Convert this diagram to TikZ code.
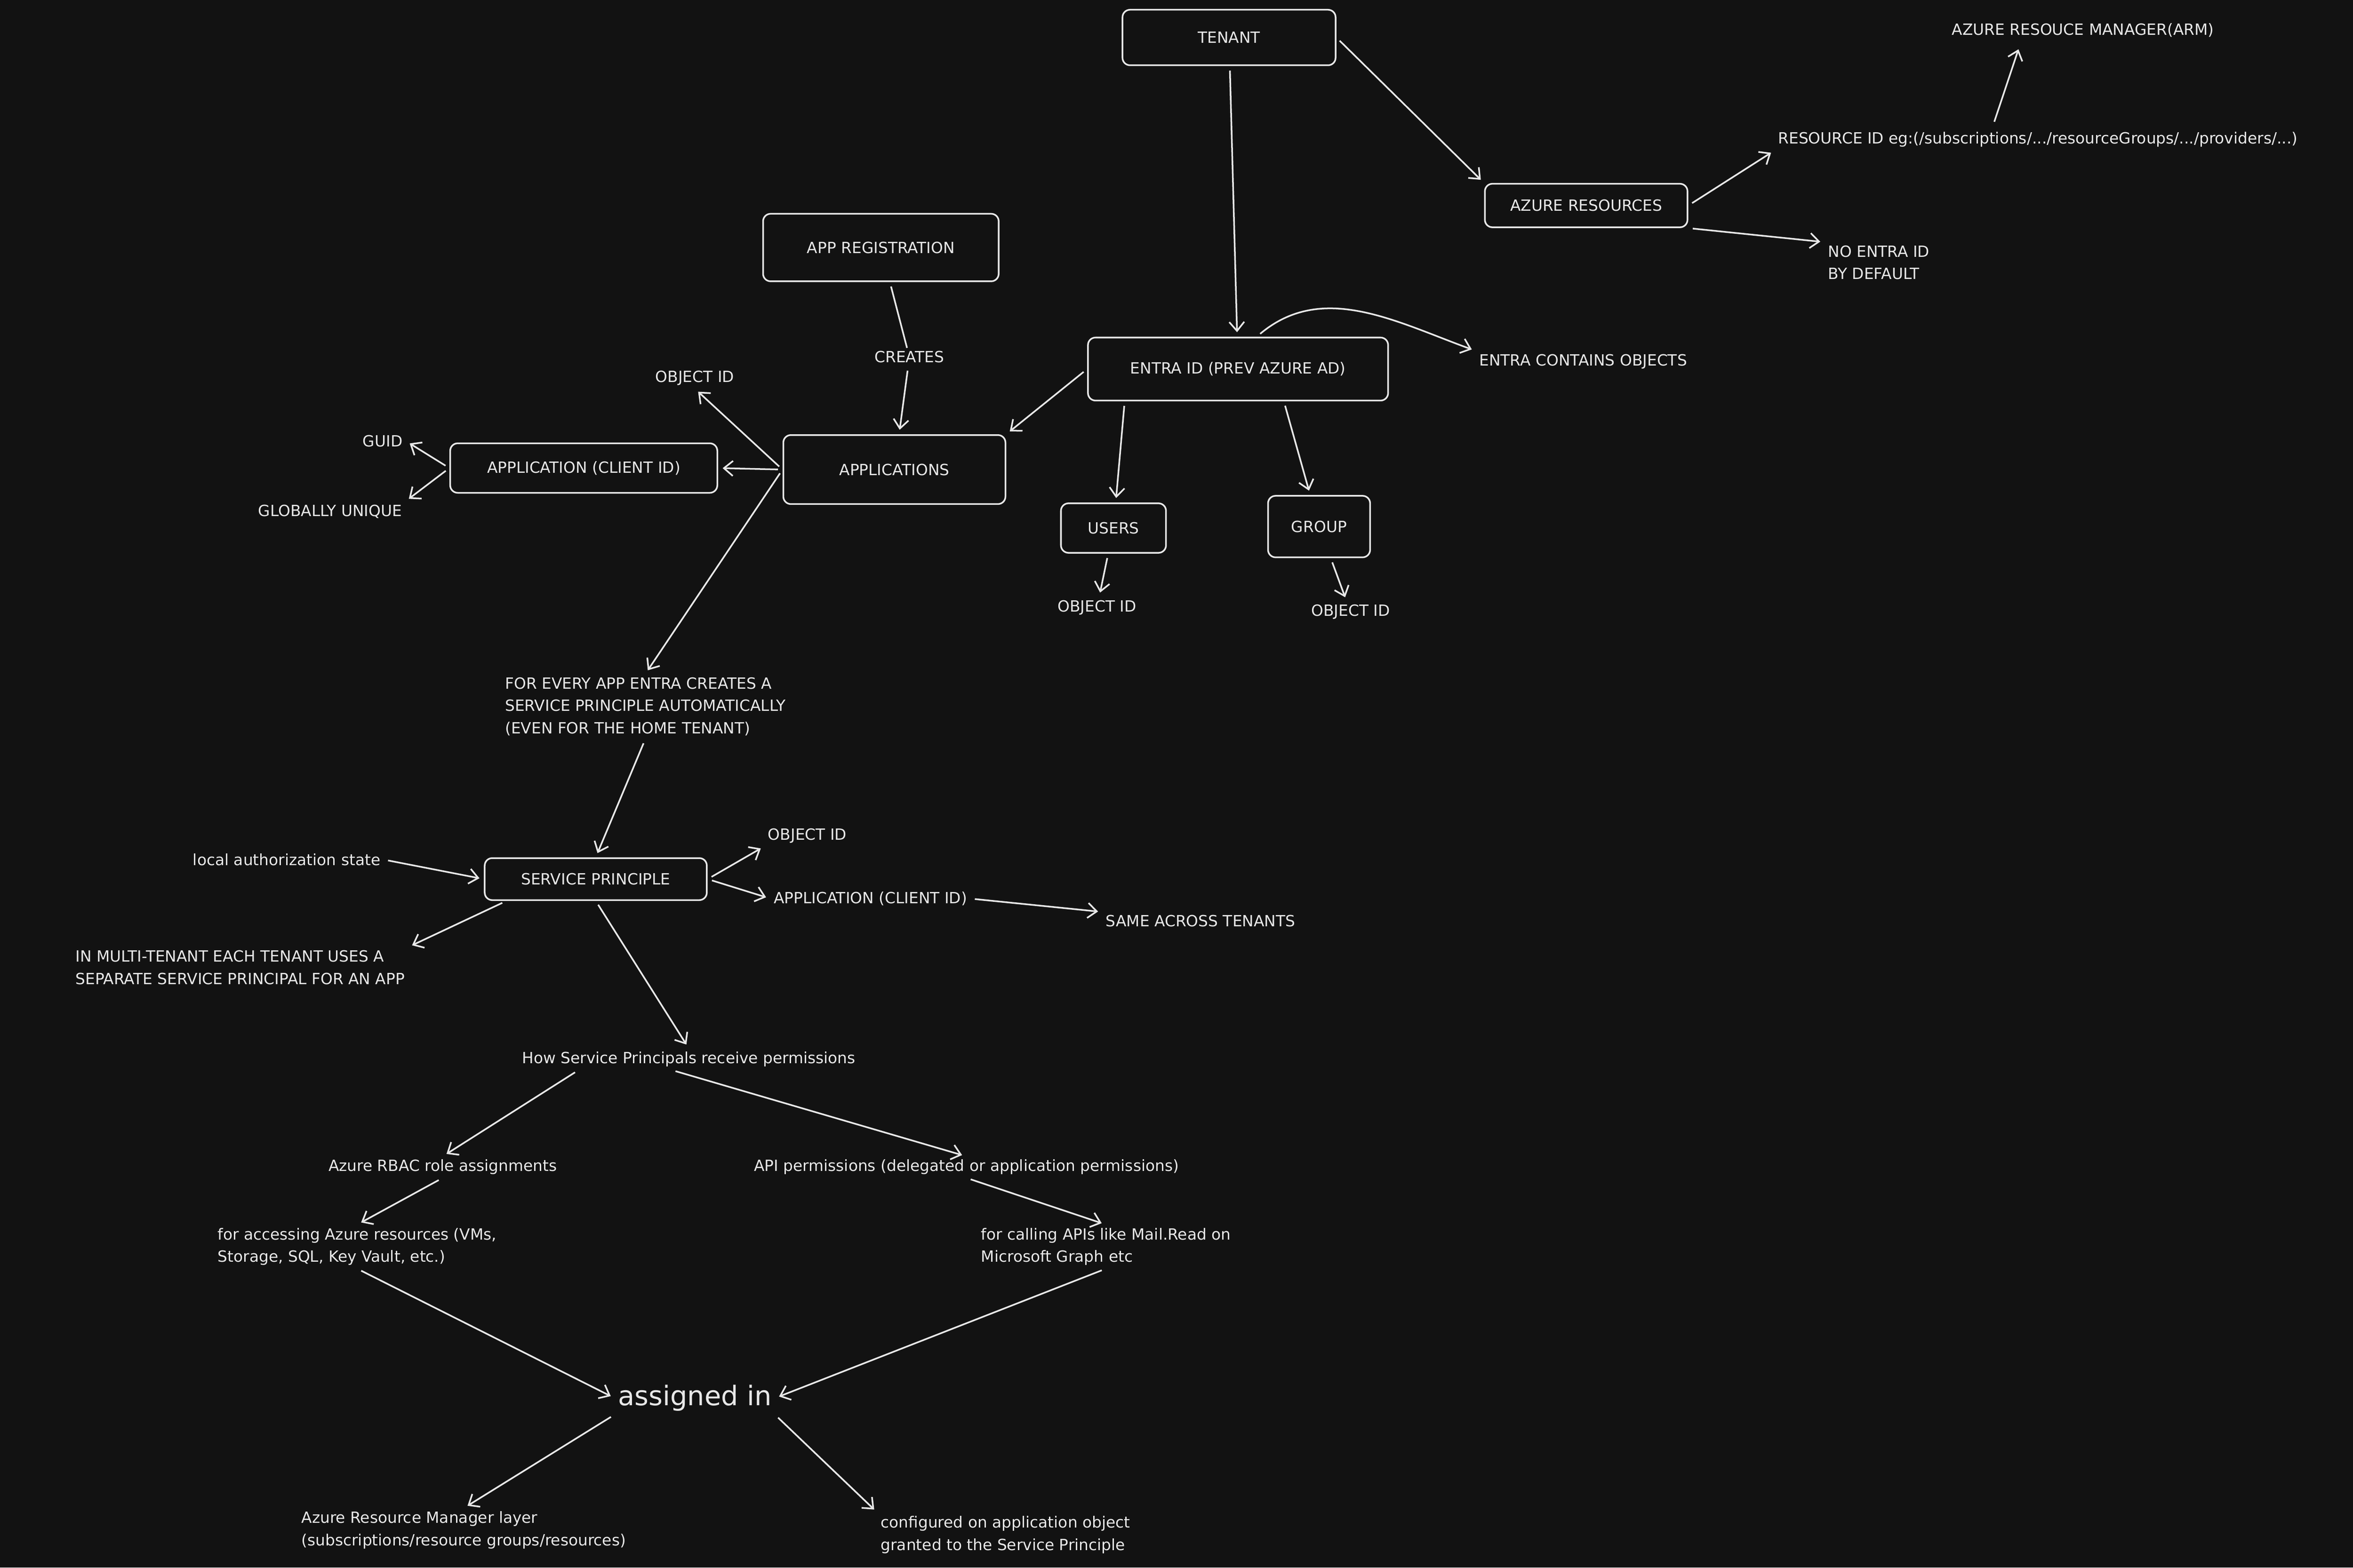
\documentclass[tikz,border=0pt]{standalone}
\usepackage{fontspec}
\setmainfont{DejaVu Sans}
\usetikzlibrary{positioning,arrows.meta}
\definecolor{bg}{HTML}{121212}
\definecolor{ink}{HTML}{E8E8E8}
\tikzset{
  box/.style={draw=ink, line width=1.1pt, rounded corners=5pt, text=ink, inner xsep=6pt, inner ysep=7pt, font=\fontsize{10.3}{13}\selectfont},
  lbl/.style={text=ink, font=\fontsize{10.3}{15}\selectfont, inner sep=2pt},
  arr/.style={draw=ink, line width=1.1pt, -{Straight Barb[length=6pt,width=10pt]}, shorten >=3pt, shorten <=3pt}
}
\begin{document}
\begin{tikzpicture}[x=1pt, y=-1pt]
    % Background
    \fill[bg] (0,0) rectangle (1568,1045);
    \useasboundingbox (0,0) rectangle (1568,1045);

    % Tenant and Azure side
    \node[box, minimum width=142pt, minimum height=37pt] (tenant) at (819,25) {TENANT};
    \node[box, minimum width=135pt, minimum height=29pt] (azres) at (1057,137) {AZURE RESOURCES};
    \node[lbl] (arm) at (1388,20) {AZURE RESOUCE MANAGER(ARM)};
    \node[lbl] (resid) at (1358,93) {RESOURCE ID eg:(/subscriptions/.../resourceGroups/.../providers/...)};
    \node[lbl, align=left] (noentra) at (1252,175) {NO ENTRA ID\\BY DEFAULT};
    \coordinate (r1) at (1328,84);
    \coordinate (r2) at (1346,30);

    % Entra ID
    \node[box, minimum width=157pt, minimum height=45pt] (appreg) at (587,165) {APP REGISTRATION};
    \node[lbl] (creates) at (606,238) {CREATES};
    \node[box, minimum width=200pt, minimum height=42pt] (entra) at (825,246) {ENTRA ID (PREV AZURE AD)};
    \node[lbl] (contains) at (1055,241) {ENTRA CONTAINS OBJECTS};
    \node[box, minimum width=148pt, minimum height=46pt] (apps) at (596,313) {APPLICATIONS};
    \node[box, minimum width=70pt, minimum height=33pt] (users) at (742,352) {USERS};
    \node[box, minimum width=68pt, minimum height=41pt] (group) at (879,351) {GROUP};
    \node[lbl] (uobj) at (731,405) {OBJECT ID};
    \node[lbl] (gobj) at (900,408) {OBJECT ID};

    % Application
    \node[lbl] (aobj) at (463,252) {OBJECT ID};
    \node[box, minimum width=178pt, minimum height=33pt, inner xsep=3pt] (client) at (389,312) {APPLICATION (CLIENT ID)};
    \node[lbl] (guid) at (255,294) {GUID};
    \node[lbl] (unique) at (220,341) {GLOBALLY UNIQUE};
    \node[lbl, align=left] (every) at (430,471) {FOR EVERY APP ENTRA CREATES A\\SERVICE PRINCIPLE AUTOMATICALLY\\(EVEN FOR THE HOME TENANT)};

    % Service principle
    \node[box, minimum width=148pt, minimum height=28pt] (sp) at (397,586) {SERVICE PRINCIPLE};
    \node[lbl] (local) at (191,573) {local authorization state};
    \node[lbl, align=left] (multi) at (160,645) {IN MULTI-TENANT EACH TENANT USES A\\SEPARATE SERVICE PRINCIPAL FOR AN APP};
    \node[lbl] (spobj) at (538,557) {OBJECT ID};
    \node[lbl] (spclient) at (580,599) {APPLICATION (CLIENT ID)};
    \node[lbl] (same) at (800,614) {SAME ACROSS TENANTS};

    % Permissions
    \node[lbl] (how) at (459,706) {How Service Principals receive permissions};
    \node[lbl] (rbac) at (295,778) {Azure RBAC role assignments};
    \node[lbl] (api) at (644,778) {API permissions (delegated or application permissions)};
    \node[lbl, align=left] (forazure) at (238,831) {for accessing Azure resources (VMs,\\Storage, SQL, Key Vault, etc.)};
    \node[lbl, align=left] (forapi) at (737,831) {for calling APIs like Mail.Read on\\Microsoft Graph etc};
    \node[lbl, font=\fontsize{18}{20}\selectfont] (assigned) at (463,932) {assigned in};
    \node[lbl, align=left] (armlayer) at (309,1020) {Azure Resource Manager layer\\(subscriptions/resource groups/resources)};
    \node[lbl, align=left] (configured) at (670,1023) {configured on application object\\granted to the Service Principle};

    % Connectors
    \draw[arr] (tenant) -- (entra);
    \draw[arr] (tenant.east) -- (azres.north west);
    \draw[arr] (azres.east) -- (resid.south west);
    \draw[arr] (r1) -- (r2);
    \draw[arr] (azres.south east) -- (noentra.north west);
    \draw[line width=1.1pt, draw=ink, shorten <=3pt] (appreg) -- (creates);
    \draw[arr] (creates) -- (apps);
    \draw[arr] (entra.west) -- (apps.north east);
    \draw[arr] (entra.60) to[out=40, in=160] (contains.north west);
    \draw[arr] (entra.south west) ++(25,0) coordinate (e1) -- (users);
    \draw[arr] (entra.south east) ++(-70,0) coordinate (e2) -- (group);
    \draw[arr] (users) -- (uobj);
    \draw[arr] (group) -- (gobj);
    \draw[arr] (apps.west) -- (aobj.south);
    \draw[arr] (apps.west) -- (client.east);
    \draw[arr] (client.west) -- (guid.east);
    \draw[arr] (client.west) -- (unique.north east);
    \draw[arr] (apps.west) -- (every.north);
    \draw[arr] (every.south) -- (sp.north);
    \draw[arr] (local.east) -- (sp.west);
    \draw[arr] (sp.south west) ++(15,0) coordinate (s1) -- (multi.north east);
    \draw[arr] (sp.east) -- (spobj.south west);
    \draw[arr] (sp.east) -- (spclient.west);
    \draw[arr] (spclient.east) -- (same.north west);
    \draw[arr] (sp.south) -- (how.north);
    \draw[arr] (how.south west) ++(40,0) coordinate (h1) -- (rbac.north);
    \draw[arr] (how.south east) ++(-125,0) coordinate (h2) -- (api.north);
    \draw[arr] (rbac.south) -- (forazure.north);
    \draw[arr] (api.south) -- (forapi.north);
    \draw[arr] (forazure.south) -- (assigned.west);
    \draw[arr] (forapi.south) -- (assigned.east);
    \draw[arr] (assigned.south west) -- (armlayer.north);
    \draw[arr] (assigned.south east) -- (configured.north west);
\end{tikzpicture}
\end{document}
